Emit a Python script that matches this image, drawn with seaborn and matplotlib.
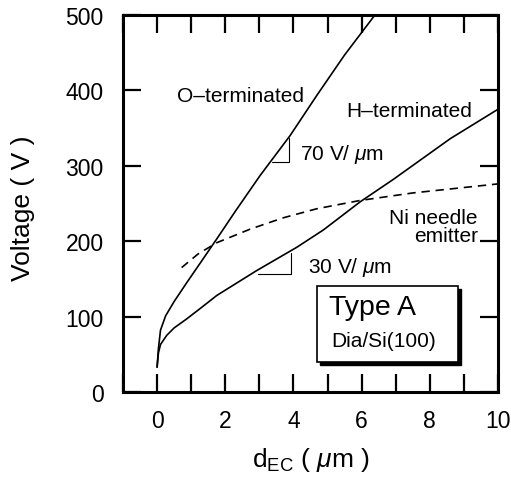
import matplotlib
matplotlib.use("Agg")
import matplotlib.pyplot as plt
import matplotlib.transforms as mtransforms
from matplotlib.patches import Rectangle
from matplotlib.ticker import MultipleLocator
import seaborn as sns
import pandas as pd

# ---- data ----
o_x = [0.0, 0.04, 0.1, 0.25, 0.5, 0.87, 1.25, 1.75, 2.3, 3.02, 3.9, 4.68, 5.5, 6.39]
o_v = [33, 58, 82, 101, 120, 145, 170, 203, 240, 287, 340, 393, 447, 500]

h_x = [0.0, 0.04, 0.1, 0.28, 0.5, 0.87, 1.3, 1.75, 2.92, 4.1, 4.88, 5.95, 6.93, 8.6, 10.0]
h_v = [33, 52, 63, 75, 85, 97, 112, 128, 161, 192, 215, 252, 282, 336, 375]

ni_x = [0.72, 1.2, 1.75, 2.73, 3.7, 4.68, 5.95, 7.5, 10.0]
ni_v = [165, 183, 198, 216, 231, 243, 254, 264, 276]

x_ticks = [0, 2, 4, 6, 8, 10]
y_ticks = [0, 100, 200, 300, 400, 500]

sns.set_theme(style="white")
plt.rcParams['font.family'] = ['Liberation Sans', 'DejaVu Sans']
plt.rcParams['mathtext.fontset'] = 'custom'
plt.rcParams['mathtext.rm'] = 'Liberation Sans'
plt.rcParams['mathtext.it'] = 'Liberation Sans:italic'
plt.rcParams['mathtext.bf'] = 'Liberation Sans:bold'
for k in ['text.color', 'axes.labelcolor', 'xtick.color', 'ytick.color', 'axes.edgecolor']:
    plt.rcParams[k] = 'black'

fig = plt.figure(figsize=(5.11, 4.81), dpi=100)
ax = fig.add_axes([123/511, 1-393/481, (498-123)/511, (393-16)/481])

df_o = pd.DataFrame({"x": o_x, "v": o_v})
df_h = pd.DataFrame({"x": h_x, "v": h_v})
df_n = pd.DataFrame({"x": ni_x, "v": ni_v})
sns.lineplot(data=df_o, x="x", y="v", ax=ax, color="black", lw=1.2, sort=False)
sns.lineplot(data=df_h, x="x", y="v", ax=ax, color="black", lw=1.2, sort=False)
sns.lineplot(data=df_n, x="x", y="v", ax=ax, color="black", lw=1.2, sort=False,
             dashes=False, linestyle=(0, (5, 3.5)))

# slope triangles
ax.plot([3.36, 3.88, 3.88], [305, 305, 337], color="black", lw=0.8)
ax.plot([2.97, 3.92, 3.92], [157, 157, 185], color="black", lw=0.8)

ax.set_xlim(-1, 10)
ax.set_ylim(0, 500)
ax.set_xticks(x_ticks)
ax.set_yticks(y_ticks)
ax.xaxis.set_minor_locator(MultipleLocator(1))
ax.tick_params(axis="both", which="both", direction="in", length=13, width=1.6,
               top=True, right=True, bottom=True, left=True,
               labelsize=16.5, pad=14, color="black", labelcolor="black")
ax.tick_params(axis="x", pad=12)
for s in ax.spines.values():
    s.set_linewidth(2.2)
    s.set_color("black")

ax.set_xlabel(r"d$_{\mathrm{EC}}$ ( $\mu$m )", fontsize=19)
ax.set_ylabel("Voltage ( V )", fontsize=19)
ax.xaxis.set_label_coords(0.5, -0.14)
ax.yaxis.set_label_coords(-0.235, 0.49)

fs = 15
ax.text(0.59, 393, "O–terminated", fontsize=fs, va="center", ha="left")
ax.text(5.56, 373, "H–terminated", fontsize=fs, va="center", ha="left")
ax.text(4.19, 316, r"70 V/ $\mu$m", fontsize=fs, va="center", ha="left")
ax.text(4.43, 167, r"30 V/ $\mu$m", fontsize=fs, va="center", ha="left")
ax.text(9.41, 232, "Ni needle", fontsize=fs, va="center", ha="right")
ax.text(9.41, 208, "emitter", fontsize=fs, va="center", ha="right")

# boxed label with drop shadow
shadow_tr = mtransforms.offset_copy(ax.transData, fig=fig, x=3, y=-3, units="dots")
ax.add_patch(Rectangle((4.68, 40), 8.83-4.68, 101, transform=shadow_tr,
                       facecolor="black", edgecolor="black", lw=1, zorder=4))
ax.add_patch(Rectangle((4.68, 40), 8.83-4.68, 101, facecolor="white",
                       edgecolor="black", lw=1.2, zorder=5))
ax.text(5.05, 113, "Type A", fontsize=20.5, va="center", ha="left", zorder=6)
ax.text(5.12, 68, "Dia/Si(100)", fontsize=15, va="center", ha="left", zorder=6)

fig.savefig("out.png", dpi=100)
